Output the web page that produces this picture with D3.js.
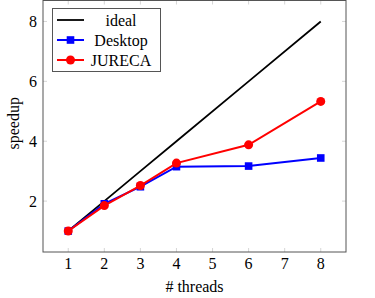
<!DOCTYPE html>
<html>
<head>
<meta charset="utf-8">
<script src="https://cdn.jsdelivr.net/npm/d3@7"></script>
<style>
  body { margin: 0; background: #fff; }
</style>
</head>
<body>
<svg id="chart" width="375" height="298"></svg>
<script>
// values
const threads = [1, 2, 3, 4, 6, 8];
const ideal = [1, 2, 3, 4, 6, 8];
const desktop = [1, 1.91, 2.48, 3.15, 3.17, 3.44];
const jureca = [1, 1.85, 2.52, 3.27, 3.88, 5.33];
const xTicks = [1, 2, 3, 4, 5, 6, 7, 8];
const yTicks = [2, 4, 6, 8];

const font = "'Liberation Serif', 'Times New Roman', serif";
const fontSize = 16;

const svg = d3.select("#chart").attr("font-family", font);
const plotL = 43, plotR = 346, plotT = 0.5, plotB = 252;

const x = d3.scaleLinear().domain([0.3, 8.7]).range([plotL, plotR]);
const y = d3.scaleLinear().domain([0.3, 8.7]).range([plotB, plotT]);

// ticks inside the frame, all four sides
const tickLen = 4;
const g = svg.append("g");
xTicks.forEach(function (t) {
  g.append("line").attr("x1", x(t)).attr("x2", x(t)).attr("y1", plotB).attr("y2", plotB - tickLen)
    .attr("stroke", "#bbb").attr("stroke-width", 0.6);
  g.append("line").attr("x1", x(t)).attr("x2", x(t)).attr("y1", plotT).attr("y2", plotT + tickLen)
    .attr("stroke", "#bbb").attr("stroke-width", 0.6);
  g.append("text").attr("x", x(t)).attr("y", 269).attr("text-anchor", "middle")
    .attr("font-size", fontSize).text(t);
});
yTicks.forEach(function (t) {
  g.append("line").attr("x1", plotL).attr("x2", plotL + tickLen).attr("y1", y(t)).attr("y2", y(t))
    .attr("stroke", "#bbb").attr("stroke-width", 0.6);
  g.append("line").attr("x1", plotR).attr("x2", plotR - tickLen).attr("y1", y(t)).attr("y2", y(t))
    .attr("stroke", "#bbb").attr("stroke-width", 0.6);
  g.append("text").attr("x", 37).attr("y", y(t) + 5.5).attr("text-anchor", "end")
    .attr("font-size", fontSize).text(t);
});

svg.append("rect").attr("x", plotL).attr("y", plotT).attr("width", plotR - plotL).attr("height", plotB - plotT)
  .attr("fill", "none").attr("stroke", "#555").attr("stroke-width", 1);

const line = d3.line().x(function (d) { return x(d[0]); }).y(function (d) { return y(d[1]); });

svg.append("path").datum(d3.zip(threads, ideal)).attr("d", line)
  .attr("fill", "none").attr("stroke", "#000").attr("stroke-width", 1.8);

svg.append("path").datum(d3.zip(threads, desktop)).attr("d", line)
  .attr("fill", "none").attr("stroke", "#00f").attr("stroke-width", 2);
svg.selectAll(".sq").data(d3.zip(threads, desktop)).enter().append("rect")
  .attr("x", function (d) { return x(d[0]) - 3.8; })
  .attr("y", function (d) { return y(d[1]) - 3.8; })
  .attr("width", 7.6).attr("height", 7.6).attr("fill", "#00f");

svg.append("path").datum(d3.zip(threads, jureca)).attr("d", line)
  .attr("fill", "none").attr("stroke", "#f00").attr("stroke-width", 2);
svg.selectAll(".dot").data(d3.zip(threads, jureca)).enter().append("circle")
  .attr("cx", function (d) { return x(d[0]); })
  .attr("cy", function (d) { return y(d[1]); })
  .attr("r", 4.5).attr("fill", "#f00");

// axis titles
svg.append("text").attr("x", (plotL + plotR) / 2).attr("y", 292).attr("text-anchor", "middle")
  .attr("font-size", fontSize).text("# threads");
svg.append("text").attr("transform", "translate(19," + y(4.6) + ") rotate(-90)")
  .attr("text-anchor", "middle").attr("font-size", fontSize).text("speedup");

// legend
const legend = svg.append("g");
legend.append("rect").attr("x", 52.5).attr("y", 8.5).attr("width", 108).attr("height", 63)
  .attr("fill", "#fff").attr("stroke", "#555").attr("stroke-width", 1);
const entries = [
  { name: "ideal", color: "#000", mark: null },
  { name: "Desktop", color: "#00f", mark: "square" },
  { name: "JURECA", color: "#f00", mark: "circle" }
];
entries.forEach(function (e, i) {
  const ly = 20 + i * 20;
  legend.append("line").attr("x1", 57).attr("x2", 84).attr("y1", ly).attr("y2", ly)
    .attr("stroke", e.color).attr("stroke-width", e.mark ? 2 : 1.8);
  if (e.mark === "square") {
    legend.append("rect").attr("x", 70.5 - 3.8).attr("y", ly - 3.8).attr("width", 7.6).attr("height", 7.6)
      .attr("fill", e.color);
  } else if (e.mark === "circle") {
    legend.append("circle").attr("cx", 70.5).attr("cy", ly).attr("r", 4.5).attr("fill", e.color);
  }
  legend.append("text").attr("x", 121).attr("y", ly + 5.5).attr("text-anchor", "middle")
    .attr("font-size", fontSize).text(e.name);
});
</script>
</body>
</html>
